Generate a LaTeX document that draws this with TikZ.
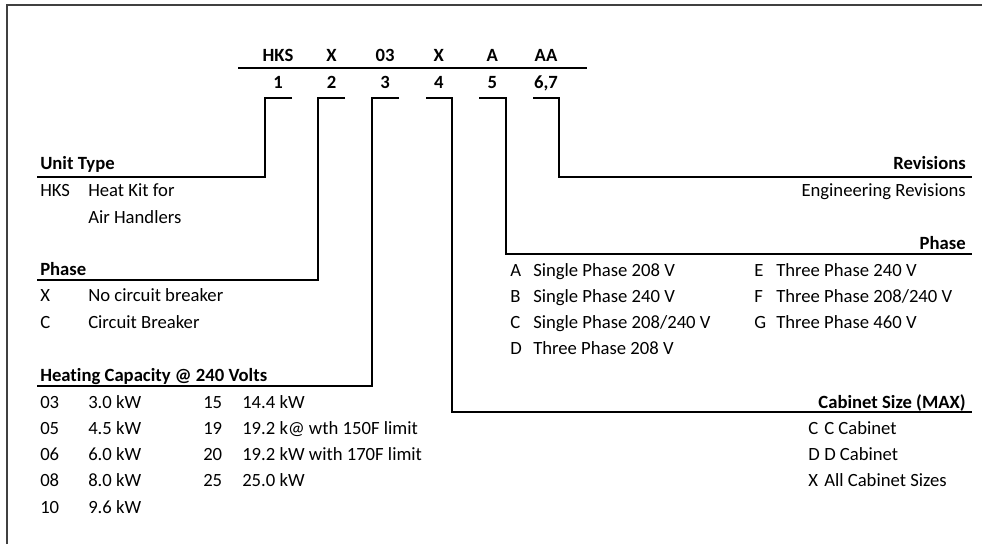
\documentclass[tikz,border=0pt]{standalone}
\usepackage{fontspec}
\setmainfont{Carlito}[Ligatures=NoCommon]
\usetikzlibrary{positioning}
\tikzset{
  txt/.style    ={font=\fontsize{14}{16}\selectfont, inner sep=0pt, text height=9pt, text depth=0pt},
  code/.style   ={txt, font=\fontsize{14}{16}\selectfont\bfseries},
  head/.style   ={code, anchor=west},
  headr/.style  ={code, anchor=east},
  item/.style   ={txt, anchor=west},
  itemr/.style  ={txt, anchor=east},
  bracket/.style={line width=1.8pt},
  frame/.style  ={line width=0.8pt, black!75},
}

\begin{document}
\begin{tikzpicture}[x=0.75pt,y=-0.75pt]
  \useasboundingbox (0,0) rectangle (982,544);
  % page frame, only left and top edge show
  \draw[frame] (7,544) |- (982,5);

  % model number and digit positions
  \foreach \c/\d [count=\i] in {HKS/1,X/2,03/3,X/4,A/5,AA/{6,7}} {
    \node[code] (c\i) at ({278+53.6*(\i-1)},55) {\c};
    \node[code] (d\i) at ({278+53.6*(\i-1)},82) {\d};
  }
  \coordinate (rl) at (238,68);
  \coordinate (rr) at (587,68);
  \draw[bracket] (rl) -- (rr);

  % brackets down to the headings
  \foreach \i/\tx/\kx/\ky/\ux in {1/292/265/177/37, 2/345/318/280/37, 3/399/372/386/37,
                                  4/426/452/412/972, 5/479/506/254/972, 6/533/559/177/972} {
    \coordinate (t\i) at (\tx,98);
    \coordinate (k\i) at (\kx,\ky);
    \coordinate (u\i) at (\ux,\ky);
    \draw[bracket] (t\i) -| (k\i) -- (u\i);
  }

  % left side
  \node[head] (unit) at (40,163) {Unit Type};
  \node[item] (hks) at (40,190) {HKS};
  \node[item] (hks1) at (88,190) {Heat Kit for};
  \node[item] (hks2) at (88,217) {Air Handlers};

  \node[head] (phs) at (40,269) {Phase};
  \node[item] (px) at (40,295) {X};
  \node[item] (px1) at (88,295) {No circuit breaker};
  \node[item] (pc) at (40,322) {C};
  \node[item] (pc1) at (88,322) {Circuit Breaker};

  \node[head] (heat) at (40,375) {Heating Capacity @ 240 Volts};
  \foreach \a/\b [count=\j] in {03/3.0 kW,05/4.5 kW,06/6.0 kW,08/8.0 kW,10/9.6 kW} {
    \node[item] (ha\j) at (40,{402+26.25*(\j-1)}) {\a};
    \node[item] (hb\j) at (88,{402+26.25*(\j-1)}) {\b};
  }
  \foreach \a/\b [count=\j] in {15/14.4 kW,19/19.2 k@ wth 150F limit,
                                20/19.2 kW with 170F limit,25/25.0 kW} {
    \node[item] (hc\j) at (203,{402+26.25*(\j-1)}) {\a};
    \node[item] (hd\j) at (242,{402+26.25*(\j-1)}) {\b};
  }

  % right side
  \node[headr] (rev) at (966,163) {Revisions};
  \node[itemr] (rev1) at (966,190) {Engineering Revisions};

  \node[headr] (volt) at (966,243) {Phase};
  \foreach \a/\b [count=\j] in {A/Single Phase 208 V,B/Single Phase 240 V,
                                C/{Single Phase 208/240 V},D/Three Phase 208 V} {
    \node[item] (va\j) at (510,{270+26*(\j-1)}) {\a};
    \node[item] (vb\j) at (533,{270+26*(\j-1)}) {\b};
  }
  \foreach \a/\b [count=\j] in {E/Three Phase 240 V,F/{Three Phase 208/240 V},G/Three Phase 460 V} {
    \node[item] (vc\j) at (754,{270+26*(\j-1)}) {\a};
    \node[item] (vd\j) at (776,{270+26*(\j-1)}) {\b};
  }

  \node[headr] (cab) at (966,402) {Cabinet Size (MAX)};
  \foreach \a/\b [count=\j] in {C/C Cabinet,D/D Cabinet,X/All Cabinet Sizes} {
    \node[item] (ca\j) at (808,{428+26*(\j-1)}) {\a};
    \node[item] (cb\j) at (824,{428+26*(\j-1)}) {\b};
  }
\end{tikzpicture}
\end{document}
